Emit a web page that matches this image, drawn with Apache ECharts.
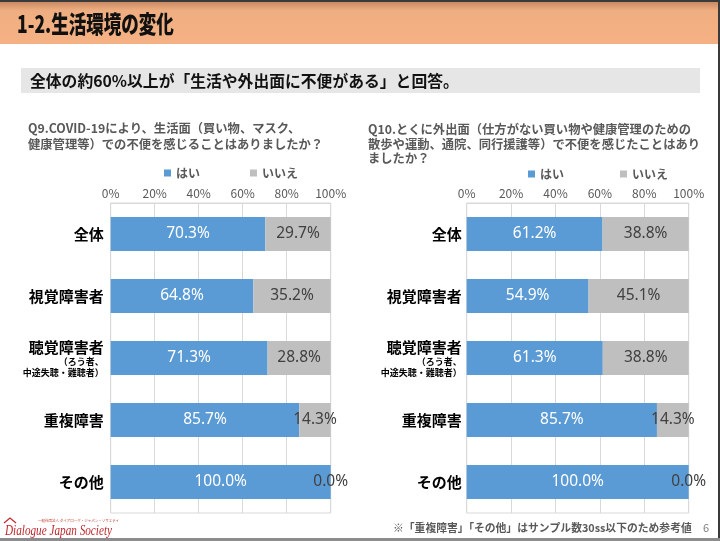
<!DOCTYPE html>
<html><head><meta charset="utf-8">
<script src="https://cdn.jsdelivr.net/npm/echarts@6/dist/echarts.min.js"></script>
<style>html,body{margin:0;padding:0;background:#fff}#c{width:720px;height:541px}</style>
</head><body><div id="c"></div>
<script>
const categories = ['全体', '視覚障害者', '聴覚障害者', '重複障害', 'その他'];
const q9Yes = [70.3, 64.8, 71.3, 85.7, 100.0];
const q9No  = [29.7, 35.2, 28.8, 14.3, 0.0];
const q10Yes = [61.2, 54.9, 61.3, 85.7, 100.0];
const q10No  = [38.8, 45.1, 38.8, 14.3, 0.0];
const seriesNames = ['はい', 'いいえ'];
const xTicks = [0, 20, 40, 60, 80, 100];

const FONT = '"Noto Sans CJK JP", "Noto Sans", sans-serif';
const BLUE = '#5B9BD5', GRAY = '#BFBFBF';

const chart = echarts.init(document.getElementById('c'), null, {renderer: 'canvas'});

function catLabel(v) {
  if (v === '聴覚障害者') return '{m|聴覚障害者}\n{s|（ろう者、}\n{s|中途失聴・難聴者）}';
  return '{m|' + v + '}';
}
function xAxisFor(i) {
  return {
    gridIndex: i, type: 'value', position: 'top', min: xTicks[0], max: xTicks[xTicks.length - 1], interval: 20,
    axisLabel: { formatter: v => v + '%', color: '#595959', fontSize: 12, fontFamily: FONT, margin: 4 },
    axisLine: { show: true, lineStyle: { color: '#D9D9D9' } },
    axisTick: { show: false },
    splitLine: { show: true, lineStyle: { color: '#D9D9D9' } }
  };
}
function yAxisFor(i, margin) {
  return {
    gridIndex: i, type: 'category', data: categories, inverse: true,
    axisLine: { show: false }, axisTick: { show: false },
    axisLabel: {
      margin: margin, formatter: catLabel, align: 'right',
      rich: {
        m: { fontSize: 15, fontWeight: 'bold', color: '#000', fontFamily: FONT, lineHeight: 18, align: 'right' },
        s: { fontSize: 9, fontWeight: 'bold', color: '#000', fontFamily: FONT, lineHeight: 11, align: 'right' }
      }
    }
  };
}
function fmt(p) { return p.value.toFixed(1) + '%'; }
function barSeries(name, data, idx, color, labelColor) {
  return {
    name: name, type: 'bar', stack: 's' + idx, xAxisIndex: idx, yAxisIndex: idx,
    data: data, barWidth: 34, itemStyle: { color: color },
    label: { show: true, position: 'inside', formatter: fmt, color: labelColor, fontSize: 15.5, fontFamily: '"Noto Sans", sans-serif' },
    emphasis: { disabled: true }
  };
}

const option = {
  animation: false,
  grid: [
    { left: 110.7, top: 203, width: 220, height: 310, show: true, borderColor: '#D9D9D9', borderWidth: 1, backgroundColor: 'transparent' },
    { left: 466.7, top: 203, width: 222, height: 310, show: true, borderColor: '#D9D9D9', borderWidth: 1, backgroundColor: 'transparent' }
  ],
  xAxis: [xAxisFor(0), xAxisFor(1)],
  yAxis: [yAxisFor(0, 7), yAxisFor(1, 5)],
  legend: [
    { data: seriesNames, left: 159, top: 162, icon: 'rect', itemWidth: 7, itemHeight: 7, itemGap: 50,
      textStyle: { color: '#595959', fontSize: 12, fontWeight: 'bold', fontFamily: FONT }, selectedMode: false },
    { data: seriesNames, left: 523, top: 163, icon: 'rect', itemWidth: 7, itemHeight: 7, itemGap: 56,
      textStyle: { color: '#595959', fontSize: 12, fontWeight: 'bold', fontFamily: FONT }, selectedMode: false }
  ],
  series: [
    barSeries(seriesNames[0], q9Yes, 0, BLUE, '#fff'),
    barSeries(seriesNames[1], q9No, 0, GRAY, '#404040'),
    barSeries(seriesNames[0], q10Yes, 1, BLUE, '#fff'),
    barSeries(seriesNames[1], q10No, 1, GRAY, '#404040')
  ],
  graphic: [
    { type: 'rect', shape: { x: 0, y: 0, width: 720, height: 2 }, style: { fill: '#3a3a3a' }, z: 0 },
    { type: 'rect', shape: { x: 0, y: 2, width: 718, height: 42 },
      style: { fill: new echarts.graphic.LinearGradient(0, 0, 0, 1, [
        { offset: 0, color: '#C98A63' }, { offset: 0.2, color: '#EFAE81' }, { offset: 1, color: '#F5B184' }]) }, z: 0 },
    { type: 'rect', shape: { x: 718, y: 0, width: 2, height: 541 }, style: { fill: '#3a3a3a' }, z: 0 },
    { type: 'rect', shape: { x: 0, y: 538, width: 720, height: 3 }, style: { fill: '#8c8c8c' }, z: 0 },
    { type: 'text', x: 17, y: 24, scaleX: 0.73, style: { text: '1-2.生活環境の変化', fontSize: 24, fontWeight: 900, fontFamily: FONT, fill: '#111', textVerticalAlign: 'middle' }, z: 5 },
    { type: 'rect', shape: { x: 21, y: 68, width: 679, height: 25 }, style: { fill: '#E6E6E6' }, z: 0 },
    { type: 'text', x: 30, y: 81, style: { text: '全体の約60%以上が「生活や外出面に不便がある」と回答。', fontSize: 15.8, fontWeight: 'bold', fontFamily: FONT, fill: '#111', textVerticalAlign: 'middle' }, z: 5 },
    { type: 'text', x: 28, y: 136, style: { text: 'Q9.COVID-19により、生活面（買い物、マスク、\n健康管理等）での不便を感じることはありましたか？', fontSize: 12.3, lineHeight: 16, fontWeight: 'bold', fontFamily: FONT, fill: '#595959', textVerticalAlign: 'middle' }, z: 5 },
    { type: 'text', x: 368, y: 122, style: { text: 'Q10.とくに外出面（仕方がない買い物や健康管理のための\n散歩や運動、通院、同行援護等）で不便を感じたことはあり\nましたか？', fontSize: 12.3, lineHeight: 14.7, fontWeight: 'bold', fontFamily: FONT, fill: '#595959', textVerticalAlign: 'top' }, z: 5 },
    { type: 'text', x: 393, y: 528, style: { text: '※「重複障害」「その他」はサンプル数30ss以下のため参考値', fontSize: 10.8, fontWeight: 'bold', fontFamily: FONT, fill: '#595959', textVerticalAlign: 'middle' }, z: 5 },
    { type: 'text', x: 703, y: 528, style: { text: '6', fontSize: 11, fontFamily: FONT, fill: '#7f7f7f', textVerticalAlign: 'middle' }, z: 5 },
    { type: 'text', x: 38, y: 521, style: { text: '一般社団法人 ダイアローグ・ジャパン・ソサエティ', fontSize: 3.5, fontFamily: FONT, fill: '#C0392B', textVerticalAlign: 'middle' }, z: 5 },
    { type: 'text', x: 5, y: 531, scaleX: 0.8, style: { text: 'Dialogue Japan Society', fontSize: 14, fontStyle: 'italic', fontFamily: '"Liberation Serif", "DejaVu Serif", serif', fill: '#C0282D', textVerticalAlign: 'middle' }, z: 5 },
    { type: 'polyline', shape: { points: [[4, 523], [10, 518], [16, 523]] }, style: { stroke: '#C0282D', lineWidth: 1.2, fill: null }, z: 5 }
  ]
};
chart.setOption(option);
</script>
</body></html>
